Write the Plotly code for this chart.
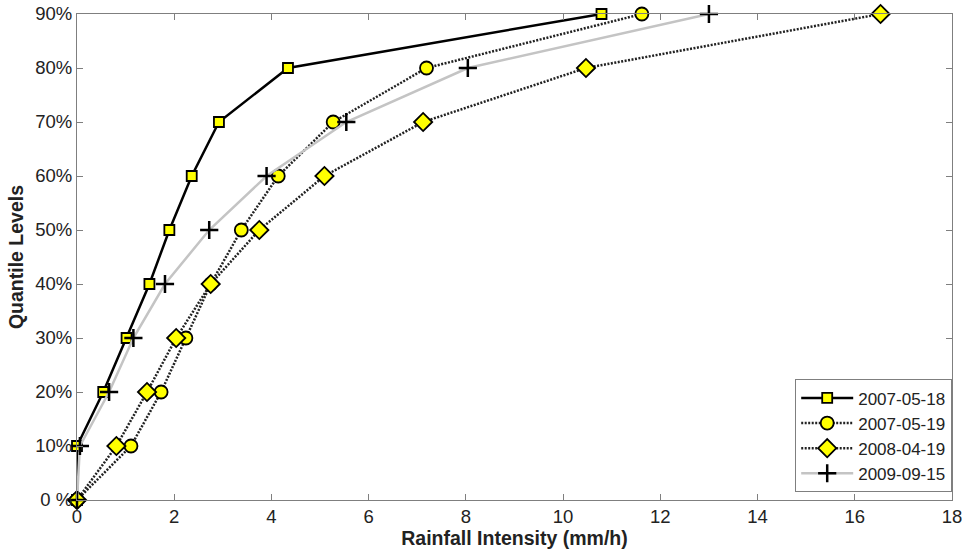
import plotly.graph_objects as go

quantiles = [0, 10, 20, 30, 40, 50, 60, 70, 80, 90]
s_20070518 = [0, 0, 0.54, 1.02, 1.49, 1.90, 2.36, 2.92, 4.34, 10.79]
s_20070519 = [0, 1.11, 1.73, 2.24, 2.75, 3.38, 4.14, 5.27, 7.19, 11.62]
s_20080419 = [0, 0.81, 1.44, 2.04, 2.75, 3.75, 5.09, 7.12, 10.47, 16.53]
s_20090915 = [0, 0.06, 0.66, 1.16, 1.81, 2.72, 3.90, 5.54, 8.04, 13.0]
names = ["2007-05-18", "2007-05-19", "2008-04-19", "2009-09-15"]
ytick_vals = [0, 10, 20, 30, 40, 50, 60, 70, 80, 90]
ytick_text = ["0 %", "10%", "20%", "30%", "40%", "50%", "60%", "70%", "80%", "90%"]

FONT = "Liberation Sans, Arial, sans-serif"
YEL = "#ffff00"
fig = go.Figure()
fig.add_trace(go.Scatter(
    x=s_20070518, y=quantiles, name=names[0], mode="lines+markers", cliponaxis=False,
    line=dict(color="black", width=2.5),
    marker=dict(symbol="square", size=10, color=YEL, line=dict(color="black", width=1.8))))
fig.add_trace(go.Scatter(
    x=s_20070519, y=quantiles, name=names[1], mode="lines+markers", cliponaxis=False,
    line=dict(color="#222222", width=2.5, dash="2px,1.5px"),
    marker=dict(symbol="circle", size=13, color=YEL, line=dict(color="black", width=1.8))))
fig.add_trace(go.Scatter(
    x=s_20080419, y=quantiles, name=names[2], mode="lines+markers", cliponaxis=False,
    line=dict(color="#222222", width=2.5, dash="2px,1.5px"),
    marker=dict(symbol="diamond", size=14, color=YEL, line=dict(color="black", width=1.8))))
fig.add_trace(go.Scatter(
    x=s_20090915, y=quantiles, name=names[3], mode="lines+markers", cliponaxis=False,
    line=dict(color="#c4c4c4", width=2.5),
    marker=dict(symbol="cross-thin", size=13, color="black", line=dict(color="black", width=2.5))))

axis_common = dict(
    showline=True, linecolor="#7f7f7f", linewidth=1.2, mirror="ticks",
    ticks="inside", ticklen=6, tickcolor="#7f7f7f", tickwidth=1.2,
    showgrid=False, zeroline=False, automargin=False, ticklabeloverflow="allow",
    tickfont=dict(family=FONT, size=18.5, color="#222222"),
)
fig.update_xaxes(range=[0, 18], dtick=2, tick0=0,
                 title=dict(text="<b>Rainfall Intensity (mm/h)</b>", standoff=2,
                            font=dict(family=FONT, size=19.5, color="#222222")),
                 **axis_common)
fig.update_yaxes(range=[0, 90], tickvals=ytick_vals, ticktext=ytick_text,
                 title=dict(text="<b>Quantile Levels</b>", standoff=6,
                            font=dict(family=FONT, size=19.5, color="#222222")),
                 **axis_common)
fig.update_layout(
    width=962, height=549,
    margin=dict(l=77, r=10, t=14, b=49, autoexpand=False),
    paper_bgcolor="white", plot_bgcolor="white",
    font=dict(family=FONT, size=18, color="#222222"),
    legend=dict(x=1, xanchor="right", y=0.016, yanchor="bottom",
                bgcolor="white", bordercolor="#7f7f7f", borderwidth=1.2,
                font=dict(size=17), tracegroupgap=0, itemwidth=52),
)
fig.write_html("out.html", config={"displayModeBar": False},
               post_script="document.body.style.margin='0px';document.body.style.overflow='hidden';")
